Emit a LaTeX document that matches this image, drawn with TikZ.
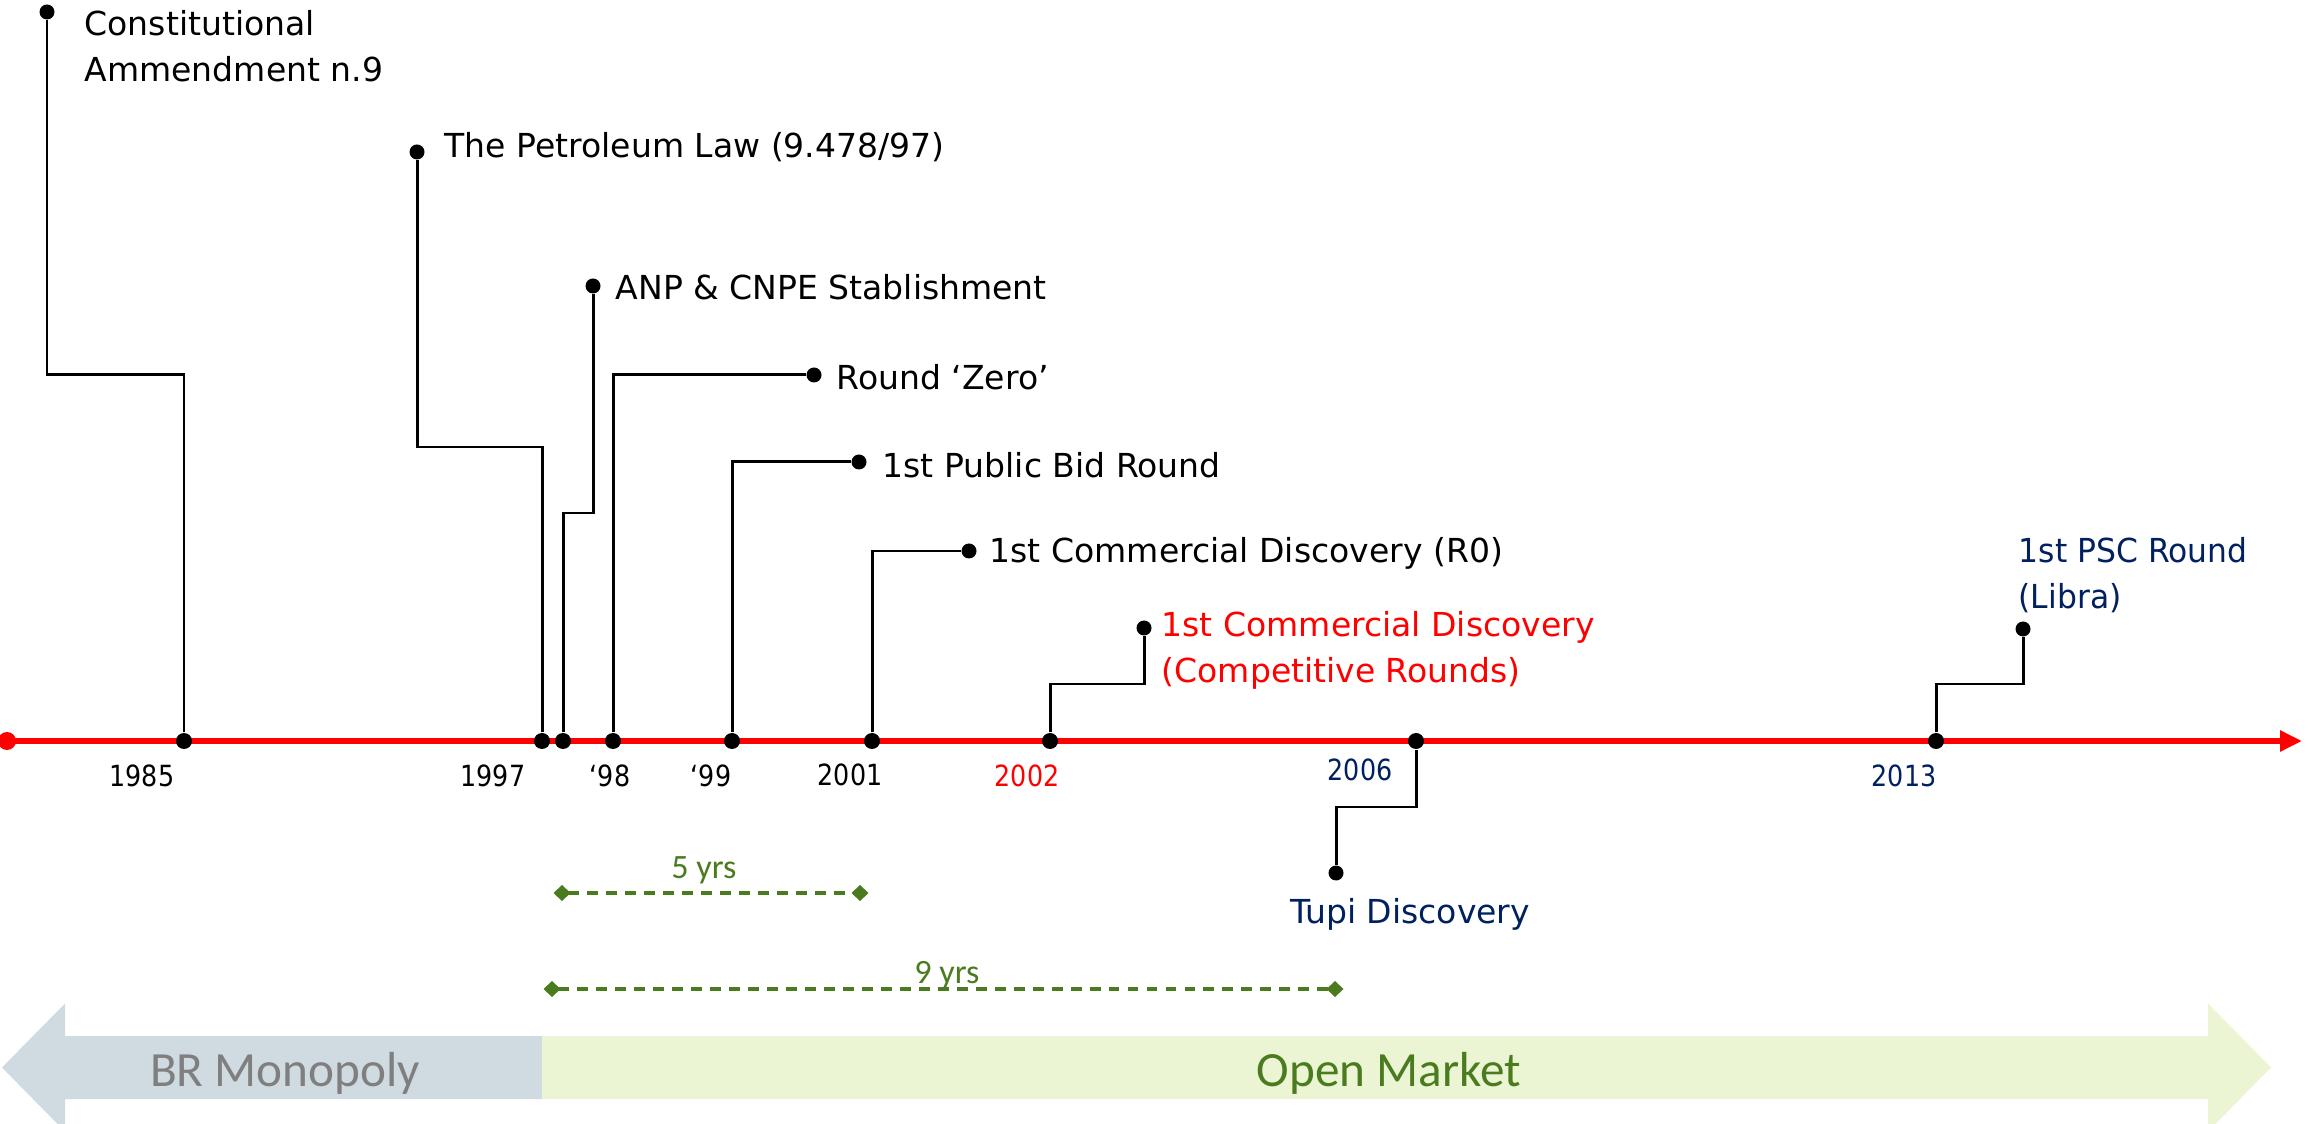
\documentclass[tikz,border=0pt]{standalone}
\usepackage{fontspec}
\setmainfont{DejaVu Sans}
\newfontfamily\narrowfont{DejaVu Sans}[FakeStretch=0.87]
\newfontfamily\pscfont{DejaVu Sans}[FakeStretch=0.95]
\newfontfamily\barfont{Carlito}
\usepackage{xcolor}
\usetikzlibrary{arrows.meta,positioning}

\definecolor{navy}{HTML}{002060}
\definecolor{spangreen}{HTML}{4A7B1F}
\definecolor{monofill}{HTML}{CFDBE0}
\definecolor{openfill}{HTML}{EBF5D3}
\definecolor{monotext}{HTML}{7F7F7F}

\begin{document}
\begin{tikzpicture}[
    dot/.style={circle, fill=black, inner sep=0pt, minimum size=0.16cm},
    enddot/.style={circle, fill=black, inner sep=0pt, minimum size=0.15cm},
    stem/.style={draw=black, line width=0.85pt},
    timeline/.style={draw=red, line width=1.6pt, -{Triangle[length=0.22cm, width=0.2cm]}},
    event/.style={anchor=base west, inner sep=0pt, align=left, font=\fontsize{9.4}{13.2}\selectfont},
    year/.style={anchor=base, inner sep=0pt, font=\narrowfont\fontsize{8.3}{10}\selectfont},
    span/.style={draw=spangreen, line width=0.9pt, dash pattern=on 3.1pt off 2.3pt,
        {Diamond[length=0.17cm, width=0.16cm]}-{Diamond[length=0.17cm, width=0.16cm]}},
    spanlabel/.style={anchor=base, inner sep=0pt, text=spangreen, font=\barfont\fontsize{9.7}{11}\selectfont},
    era/.style={anchor=base, inner sep=0pt, font=\barfont\fontsize{14}{16}\selectfont}
]
    \useasboundingbox (0,0) rectangle (23.10,-11.24);

    % eras
    \fill[monofill] (5.42,-10.36) -- (0.65,-10.36) -- (0.65,-10.035) -- (0.02,-10.675)
        -- (0.65,-11.315) -- (0.65,-10.99) -- (5.42,-10.99) -- cycle;
    \fill[openfill] (5.42,-10.36) -- (22.08,-10.36) -- (22.08,-10.035) -- (22.71,-10.675)
        -- (22.08,-11.315) -- (22.08,-10.99) -- (5.42,-10.99) -- cycle;
    \node[era, text=monotext] (mono) at (2.85,-10.86) {BR Monopoly};
    \node[era, text=spangreen] (open) at (13.89,-10.86) {Open Market};

    % time axis
    \node[circle, fill=red, inner sep=0pt, minimum size=0.18cm] (origin) at (0.07,-7.41) {};
    \coordinate (axisend) at (23.02,-7.41);
    \draw[timeline] (origin.center) -- (axisend);

    \foreach \name/\x in {a85/1.84, a97/5.42, a97b/5.63, a98/6.13, a99/7.32, a01/8.72, a02/10.50, a06/14.16, a13/19.36}
        \node[dot] (\name) at (\x,-7.41) {};

    \node[year] (y85) at (1.42,-7.87) {1985};
    \node[year] (y97) at (4.93,-7.87) {1997};
    \node[year] (y98) at (6.10,-7.87) {‘98};
    \node[year] (y99) at (7.11,-7.87) {‘99};
    \node[year] (y01) at (8.50,-7.85) {2001};
    \node[year, text=red] (y02) at (10.27,-7.87) {2002};
    \node[year, text=navy] (y06) at (13.60,-7.81) {2006};
    \node[year, text=navy] (y13) at (19.04,-7.87) {2013};

    % events
    \node[enddot] (constit) at (0.47,-0.12) {};
    \node[enddot] (petrolaw) at (4.17,-1.52) {};
    \node[enddot] (anp) at (5.93,-2.86) {};
    \node[enddot] (rzero) at (8.14,-3.75) {};
    \node[enddot] (bid1) at (8.59,-4.62) {};
    \node[enddot] (disc0) at (9.69,-5.51) {};
    \node[enddot] (disccomp) at (11.44,-6.28) {};
    \node[enddot] (tupi) at (13.36,-8.73) {};
    \node[enddot] (psc) at (20.23,-6.29) {};

    \draw[stem] (a85) -- ++(0,3.66) -| (constit);
    \draw[stem] (a97) -- ++(0,2.94) -| (petrolaw);
    \draw[stem] (a97b) -- ++(0,2.28) -| (anp);
    \draw[stem] (a98) |- (rzero);
    \draw[stem] (a99) |- (bid1);
    \draw[stem] (a01) |- (disc0);
    \draw[stem] (a02) -- ++(0,0.57) -| (disccomp);
    \draw[stem] (a06) -- ++(0,-0.66) -| (tupi);
    \draw[stem] (a13) -- ++(0,0.57) -| (psc);

    % two-line labels sit on the baseline of their last line
    \node[event] (constitlbl) at (0.84,-0.82) {Constitutional\\Ammendment n.9};
    \node[event] (petrolawlbl) at (4.44,-1.58) {The Petroleum Law (9.478/97)};
    \node[event] (anplbl) at (6.15,-3.00) {ANP \& CNPE Stablishment};
    \node[event] (rzerolbl) at (8.36,-3.90) {Round ‘Zero’};
    \node[event] (bid1lbl) at (8.82,-4.78) {1st Public Bid Round};
    \node[event] (disc0lbl) at (9.89,-5.63) {1st Commercial Discovery (R0)};
    \node[event, text=red] (disccomplbl) at (11.61,-6.83) {1st Commercial Discovery\\(Competitive Rounds)};
    \node[event, anchor=base, text=navy] (tupilbl) at (14.10,-9.23) {Tupi Discovery};
    \node[event, text=navy, font=\pscfont\fontsize{9.4}{13.2}\selectfont] (psclbl) at (20.18,-6.09) {1st PSC Round\\(Libra)};

    % spans
    \coordinate (s5a) at (5.535,-8.93);
    \coordinate (s5b) at (8.685,-8.93);
    \coordinate (s9a) at (5.435,-9.89);
    \coordinate (s9b) at (13.435,-9.89);
    \draw[span] (s5a) -- (s5b);
    \draw[span] (s9a) -- (s9b);
    \node[spanlabel] (s5lbl) at (7.04,-8.79) {5 yrs};
    \node[spanlabel] (s9lbl) at (9.47,-9.83) {9 yrs};
\end{tikzpicture}
\end{document}
